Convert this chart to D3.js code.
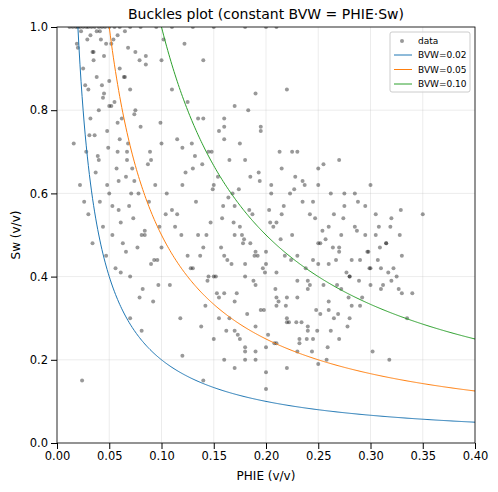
<!DOCTYPE html>
<html><head><meta charset="utf-8">
<script src="https://cdn.jsdelivr.net/npm/d3@7"></script>
<style>body{margin:0;background:#fff;font-family:"DejaVu Sans",sans-serif}</style>
</head><body><svg id="c" width="498" height="492"></svg>
<script>
const xTicks=[0,0.05,0.1,0.15,0.2,0.25,0.3,0.35,0.4];
const yTicks=[0,0.2,0.4,0.6,0.8,1.0];
const bvwValues=[0.02,0.05,0.10];
const bvwColors=["#1f77b4","#ff7f0e","#2ca02c"];
// scatter samples [PHIE, Sw]
const phie=[0.012,0.015,0.018,0.02,0.022,0.025,0.028,0.03,0.033,0.036,0.04,0.043,0.046,0.05,0.055,0.06,0.07,0.08,0.095,0.11,0.13,0.15,0.18,0.2,0.21,
0.02,0.025,0.03,0.032,0.035,0.038,0.04,0.042,0.045,0.048,0.05,0.052,0.055,0.058,0.06,0.062,0.065,0.068,0.07,0.072,0.075,0.078,0.08,0.085,0.09,
0.022,0.028,0.03,0.034,0.037,0.041,0.044,0.047,0.05,0.053,0.056,0.059,0.063,0.066,0.07,0.073,0.077,0.082,0.088,0.093,0.098,0.032,0.045,0.06,0.075,
0.036,0.04,0.048,0.053,0.057,0.061,0.066,0.071,0.079,0.084,0.09,0.097,0.104,0.05,0.058,0.067,0.074,0.087,0.1,0.043,0.061,0.07,0.081,0.092,0.065,
0.1,0.105,0.11,0.115,0.12,0.125,0.13,0.135,0.14,0.145,0.15,0.155,0.16,0.165,0.17,0.175,0.18,0.185,0.19,0.195,0.2,0.205,0.21,0.215,0.22,
0.1,0.108,0.113,0.118,0.123,0.128,0.133,0.138,0.143,0.148,0.153,0.158,0.163,0.168,0.173,0.178,0.183,0.188,0.193,0.198,0.203,0.208,0.213,0.218,0.223,
0.225,0.23,0.235,0.24,0.245,0.25,0.255,0.26,0.265,0.27,0.275,0.28,0.285,0.29,0.295,0.3,0.305,0.31,0.315,0.32,0.325,0.33,0.335,0.34,0.228,
0.232,0.238,0.242,0.248,0.252,0.258,0.262,0.268,0.272,0.278,0.282,0.288,0.292,0.298,0.302,0.308,0.312,0.318,0.322,0.328,0.26,0.27,0.3,0.245,
0.115,0.125,0.135,0.145,0.155,0.165,0.175,0.185,0.195,0.205,0.215,0.225,0.235,0.245,0.255,0.265,0.275,0.285,0.295,0.305,0.315,0.16,0.17,0.18,0.19,
0.14,0.15,0.16,0.17,0.18,0.19,0.2,0.21,0.22,0.23,0.24,0.25,0.26,0.27,0.28,0.2,0.21,0.22,0.23,0.17,0.18,0.19,0.25,0.24,0.35,
0.12,0.13,0.14,0.15,0.16,0.17,0.18,0.19,0.2,0.21,0.22,0.23,0.24,0.25,0.26,0.27,0.28,0.29,0.3,0.31,0.32,0.33,0.155,0.175,0.195,
0.024,0.027,0.031,0.035,0.039,0.044,0.049,0.054,0.059,0.064,0.069,0.074,0.079,0.084,0.089,0.094,0.099,0.026,0.038,0.052,0.067,0.081,0.096,0.11,0.12,
0.132,0.142,0.152,0.162,0.172,0.182,0.192,0.202,0.212,0.222,0.232,0.242,0.252,0.262,0.272,0.282,0.137,0.147,0.157,0.167,0.177,0.187,0.197,0.207,0.217,
0.227,0.237,0.247,0.257,0.267,0.277,0.287,0.297,0.307,0.317,0.327,0.144,0.154,0.164,0.174,0.184,0.194,0.204,0.214,0.224,0.234,0.244,0.254,0.264,0.274,
0.119,0.129,0.139,0.149,0.159,0.169,0.179,0.189,0.199,0.209,0.219,0.229,0.239,0.249,0.259,0.269,0.279,0.289,0.299,0.309,0.319,0.329,0.21,0.23,0.25,
0.016,0.019,0.023,0.029,0.034,0.041,0.047,0.058,0.068,0.085,0.102,0.122,0.14,0.16,0.17,0.19,0.22,0.16,0.18,0.2];
const sw=[1,1,1,1,1,1,1,1,1,1,1,1,1,1,1,1,1,1,1,1,1,1,1,1,1,
0.95,0.9,0.85,0.98,0.92,0.88,0.8,0.97,0.93,0.75,0.87,0.96,0.82,0.7,0.9,0.78,0.99,0.72,0.85,0.66,0.94,0.6,0.76,0.91,0.68,
0.62,0.7,0.55,0.48,0.65,0.58,0.52,0.45,0.6,0.5,0.42,0.56,0.48,0.64,0.4,0.54,0.47,0.37,0.58,0.44,0.52,0.78,0.84,0.73,0.8,
0.74,0.68,0.62,0.57,0.66,0.53,0.46,0.6,0.35,0.5,0.43,0.38,0.55,0.81,0.77,0.7,0.63,0.67,0.72,0.86,0.41,0.3,0.27,0.34,0.88,
0.92,0.6,0.85,0.55,0.71,0.45,0.66,0.5,0.78,0.4,0.62,0.35,0.73,0.3,0.57,0.25,0.68,0.48,0.22,0.75,0.43,0.62,0.33,0.55,0.18,
0.47,0.38,0.52,0.3,0.65,0.42,0.58,0.28,0.5,0.7,0.36,0.54,0.44,0.6,0.26,0.48,0.8,0.39,0.65,0.32,0.56,0.24,0.7,0.45,0.6,
0.5,0.35,0.58,0.28,0.44,0.62,0.38,0.52,0.3,0.47,0.57,0.4,0.6,0.33,0.5,0.42,0.55,0.37,0.48,0.54,0.4,0.45,0.3,0.36,0.64,
0.25,0.42,0.55,0.32,0.48,0.2,0.6,0.38,0.5,0.28,0.44,0.58,0.35,0.46,0.22,0.52,0.38,0.2,0.42,0.5,0.34,0.68,0.62,0.25,0.73,
0.82,0.78,0.7,0.75,0.68,0.72,0.64,0.76,0.6,0.66,0.7,0.63,0.58,0.67,0.55,0.6,0.52,0.57,0.5,0.48,0.45,0.27,0.22,0.2,0.15,
0.25,0.2,0.18,0.23,0.28,0.13,0.24,0.3,0.22,0.27,0.19,0.32,0.25,0.3,0.17,0.35,0.29,0.39,0.34,0.4,0.46,0.43,0.37,0.55,0.21,
0.42,0.47,0.4,0.36,0.5,0.43,0.38,0.46,0.41,0.35,0.45,0.39,0.48,0.43,0.46,0.4,0.44,0.38,0.42,0.39,0.36,0.3,0.52,0.32,0.15,
0.86,0.74,0.94,0.69,0.83,0.71,0.97,0.63,0.88,0.57,0.79,0.92,0.51,0.7,0.62,0.77,0.58,0.99,0.81,0.68,0.5,0.44,0.56,0.62,0.69,
0.33,0.4,0.27,0.36,0.31,0.45,0.26,0.34,0.29,0.24,0.38,0.31,0.27,0.37,0.33,0.45,0.53,0.47,0.43,0.5,0.55,0.42,0.52,0.57,0.61,
0.62,0.54,0.49,0.44,0.41,0.51,0.46,0.44,0.41,0.37,0.39,0.64,0.59,0.61,0.56,0.63,0.53,0.49,0.44,0.29,0.22,0.51,0.47,0.54,0.5,
0.72,0.67,0.61,0.57,0.53,0.49,0.45,0.41,0.37,0.33,0.29,0.25,0.27,0.23,0.31,0.35,0.39,0.42,0.47,0.52,0.56,0.53,0.7,0.66,0.72,
0.96,0.99,0.97,0.94,0.99,0.96,0.98,0.95,0.93,0.97,0.96,0.92,0.76,0.81,0.84,0.85,0.78,0.2,0.23,0.18];
const svg=d3.select("#c");
const m={l:57,r:475,t:27,b:443};
const x=d3.scaleLinear().domain([0,0.4]).range([m.l,m.r]);
const y=d3.scaleLinear().domain([0,1]).range([m.b,m.t]);
const grid=svg.append("g");
xTicks.forEach(t=>grid.append("line").attr("x1",x(t)).attr("x2",x(t)).attr("y1",m.t).attr("y2",m.b).attr("stroke","#b0b0b0").attr("stroke-opacity",0.3).attr("stroke-width",0.8));
yTicks.forEach(t=>grid.append("line").attr("y1",y(t)).attr("y2",y(t)).attr("x1",m.l).attr("x2",m.r).attr("stroke","#b0b0b0").attr("stroke-opacity",0.3).attr("stroke-width",0.8));
svg.append("defs").append("clipPath").attr("id","cp").append("rect").attr("x",m.l).attr("y",m.t).attr("width",m.r-m.l).attr("height",m.b-m.t);
const pg=svg.append("g").attr("clip-path","url(#cp)");
phie.forEach((p,i)=>pg.append("circle").attr("cx",x(p)).attr("cy",y(sw[i])).attr("r",2).attr("fill","#000").attr("fill-opacity",0.4));
bvwValues.forEach((b,k)=>{
  const pts=d3.range(0.001,0.4005,0.001).map(p=>[p,b/p]);
  pg.append("path").attr("d",d3.line().x(d=>x(d[0])).y(d=>y(Math.min(d[1],1.5)))(pts)).attr("fill","none").attr("stroke",bvwColors[k]).attr("stroke-width",1);
});
svg.append("rect").attr("x",m.l).attr("y",m.t).attr("width",m.r-m.l).attr("height",m.b-m.t).attr("fill","none").attr("stroke","#000").attr("stroke-width",0.8);
svg.append("g").attr("transform",`translate(0,${m.b})`).call(d3.axisBottom(x).tickValues(xTicks).tickFormat(d3.format(".2f")).tickSizeOuter(0)).call(g=>g.select(".domain").remove()).selectAll("text").attr("font-size",11.5).attr("font-family","DejaVu Sans");
svg.append("g").attr("transform",`translate(${m.l},0)`).call(d3.axisLeft(y).tickValues(yTicks).tickFormat(d3.format(".1f")).tickSizeOuter(0)).call(g=>g.select(".domain").remove()).selectAll("text").attr("font-size",11.5).attr("font-family","DejaVu Sans");
svg.append("text").attr("x",(m.l+m.r)/2).attr("y",19).attr("text-anchor","middle").attr("font-size",14).text("Buckles plot (constant BVW = PHIE·Sw)");
svg.append("text").attr("x",(m.l+m.r)/2).attr("y",480).attr("text-anchor","middle").attr("font-size",12).text("PHIE (v/v)");
svg.append("text").attr("transform",`translate(20,${(m.t+m.b)/2}) rotate(-90)`).attr("text-anchor","middle").attr("font-size",12).text("Sw (v/v)");
const lg=svg.append("g").attr("transform","translate(390,32)");
lg.append("rect").attr("width",80).attr("height",60).attr("rx",2).attr("fill","#fff").attr("fill-opacity",0.8).attr("stroke","#ccc");
lg.append("circle").attr("cx",12).attr("cy",9).attr("r",2).attr("fill","#000").attr("fill-opacity",0.4);
lg.append("text").attr("x",28).attr("y",12).attr("font-size",9).text("data");
bvwValues.forEach((b,k)=>{
  const yy=23+k*14.5;
  lg.append("line").attr("x1",4).attr("x2",22).attr("y1",yy).attr("y2",yy).attr("stroke",bvwColors[k]);
  lg.append("text").attr("x",28).attr("y",yy+3).attr("font-size",9).text("BVW="+b.toFixed(2));
});
</script></body></html>
